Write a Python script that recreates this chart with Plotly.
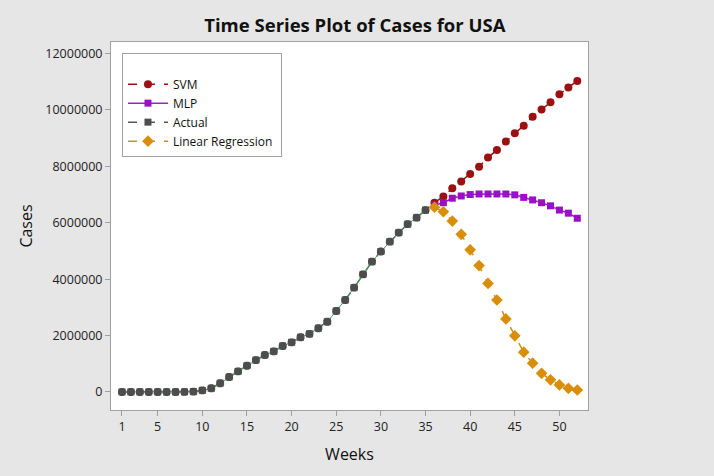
import plotly.graph_objects as go

weeks_actual = list(range(1, 36))
actual = [0, 0, 0, 0, 0, 0, 0, 2000, 12000, 55000,
          130000, 310000, 530000, 730000, 930000, 1130000, 1310000, 1440000, 1630000, 1760000,
          1940000, 2060000, 2260000, 2490000, 2870000, 3260000, 3700000, 4170000, 4620000, 4980000,
          5330000, 5650000, 5950000, 6180000, 6450000]

weeks_pred = list(range(36, 53))
svm = [6710000, 6930000, 7220000, 7460000, 7730000, 7990000, 8310000, 8580000, 8880000,
       9170000, 9440000, 9760000, 10020000, 10270000, 10560000, 10800000, 11030000]
mlp = [6620000, 6710000, 6870000, 6950000, 7000000, 7020000, 7020000, 7020000, 7020000,
       6990000, 6900000, 6810000, 6710000, 6600000, 6450000, 6340000, 6160000]
linreg = [6550000, 6390000, 6060000, 5590000, 5040000, 4480000, 3850000, 3260000, 2590000,
          1990000, 1410000, 1020000, 660000, 430000, 250000, 130000, 70000]

x_ticks = [1, 5, 10, 15, 20, 25, 30, 35, 40, 45, 50]
y_ticks = [0, 2000000, 4000000, 6000000, 8000000, 10000000, 12000000]

fig = go.Figure()

fig.add_trace(go.Scatter(x=weeks_pred, y=svm, name="SVM", mode="lines+markers",
                         line=dict(color="#9b1111", width=1.5, dash="dash"),
                         marker=dict(symbol="circle", size=8, color="#9b1111")))
fig.add_trace(go.Scatter(x=weeks_pred, y=mlp, name="MLP", mode="lines+markers",
                         line=dict(color="#a020c8", width=1.5),
                         marker=dict(symbol="square", size=7, color="#9a10c8")))
fig.add_trace(go.Scatter(x=weeks_actual, y=actual, name="Actual", mode="lines+markers",
                         line=dict(color="#555555", width=1.5, dash="dash"),
                         marker=dict(symbol="square", size=7, color="#4d4d4d")))
fig.add_trace(go.Scatter(x=weeks_pred, y=linreg, name="Linear Regression\u00a0",
                         mode="lines+markers",
                         line=dict(color="#d98e0a", width=1.5, dash="dash"),
                         marker=dict(symbol="diamond", size=9, color="#d98e0a")))
# thin green connector between actual points, with octagonal markers on top
fig.add_trace(go.Scatter(x=weeks_actual, y=actual, mode="lines",
                         line=dict(color="#3aa84a", width=1), showlegend=False, hoverinfo="skip"))
fig.add_trace(go.Scatter(x=weeks_actual, y=actual, mode="markers", showlegend=False,
                         marker=dict(symbol="octagon", size=8.5, color="#4d4d4d")))

axis_common = dict(showline=True, linecolor="#a0a0a0", linewidth=1, mirror=True,
                   ticks="outside", ticklen=5, tickcolor="#a0a0a0", showgrid=False,
                   zeroline=False, tickfont=dict(family="Open Sans", size=12.5, color="#222222"))

fig.update_layout(
    width=714, height=476,
    paper_bgcolor="#e6e6e6", plot_bgcolor="white",
    margin=dict(l=111, r=126, t=42, b=66),
    title=dict(text="<b>Time Series Plot of Cases for USA</b>", x=0.497, xanchor="center",
               y=0.947, yanchor="middle",
               font=dict(family="Open Sans", size=18.5, color="#111111")),
    xaxis=dict(range=[-0.23, 53.2], tickvals=x_ticks, ticktext=[str(v) for v in x_ticks],
               title=dict(text="Weeks", font=dict(family="Open Sans", size=16, color="#111111"),
                          standoff=14),
               **axis_common),
    yaxis=dict(range=[-640000, 12410000], tickvals=y_ticks, ticktext=[str(v) for v in y_ticks],
               title=dict(text="Cases", font=dict(family="Open Sans", size=16, color="#111111"),
                          standoff=8),
               **axis_common),
    legend=dict(x=0.023, y=0.970, xanchor="left", yanchor="top",
                bgcolor="white", bordercolor="#a0a0a0", borderwidth=1,
                font=dict(family="Open Sans", size=12, color="#111111"),
                title=dict(text=" ", font=dict(size=12)),
                traceorder="normal", itemwidth=40, tracegroupgap=0),
    showlegend=True,
)

fig.write_html("out.html", config={"displayModeBar": False},
               post_script="document.body.style.margin='0';document.body.style.background='#e6e6e6';")
